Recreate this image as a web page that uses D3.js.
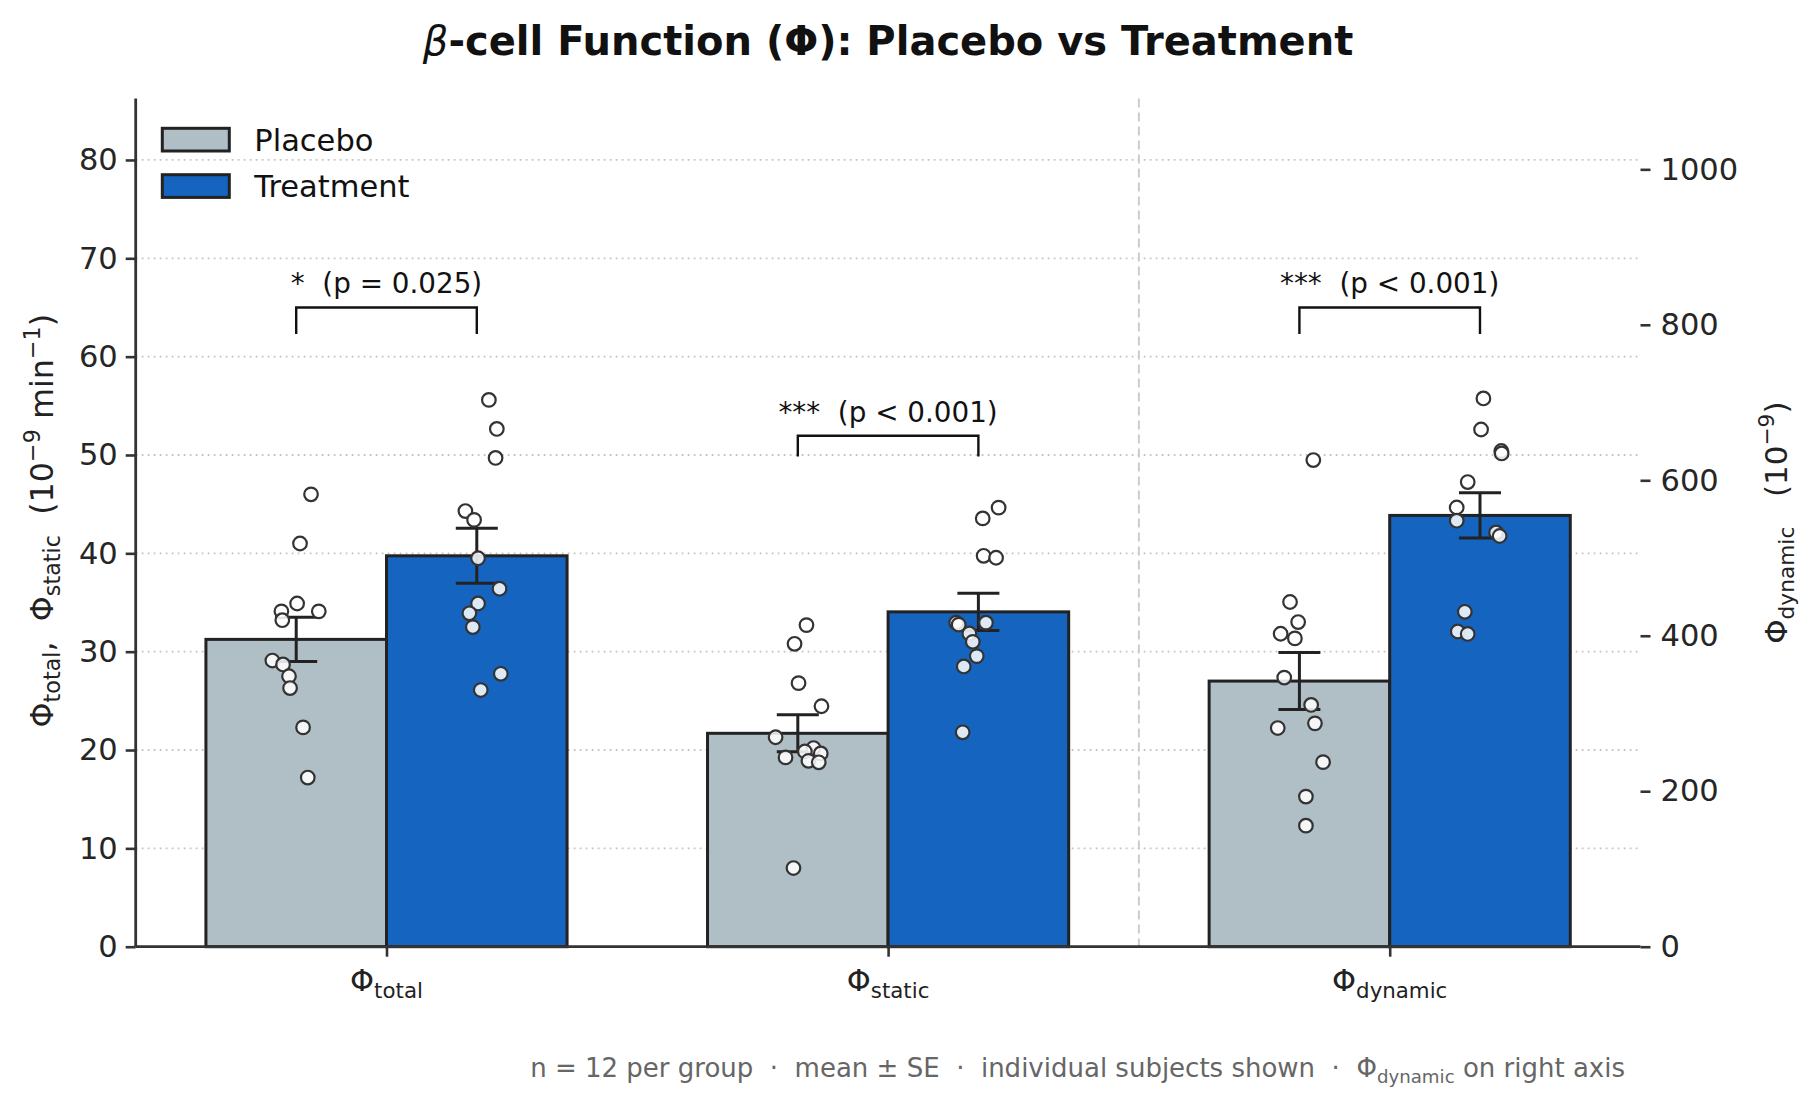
<!DOCTYPE html>
<html>
<head>
<meta charset="utf-8">
<script src="https://cdn.jsdelivr.net/npm/d3@7"></script>
<style>
  html, body { margin: 0; padding: 0; background: #fff; }
  svg text { font-family: "DejaVu Sans", sans-serif; white-space: pre; }
</style>
</head>
<body>
<svg id="chart" width="1819" height="1111"></svg>
<script>
// categories and groups
const categories = ["total", "static", "dynamic"];
const groups = ["Placebo", "Treatment"];
const axisFor = ["left", "left", "right"];   // dynamic is on the right axis

// bar means and SE
const placeboMean = [31.25, 21.7, 341.7];
const treatmentMean = [39.75, 34.05, 554.8];
const placeboSE = [2.25, 1.88, 36.7];
const treatmentSE = [2.8, 1.9, 29.2];

// individual subjects: value, jitter (fraction of bar width)
const placeboPts = [
  [[46.0, .082], [41.0, .021], [34.9, .005], [34.1, -.082], [34.1, .125], [33.2, -.077],
   [29.1, -.132], [28.7, -.073], [27.5, -.040], [26.3, -.034], [22.3, .038], [17.2, .064]],
  [[32.7, .048], [30.8, -.018], [26.8, .004], [24.45, .131], [21.3, -.123], [20.2, .087],
   [19.85, .039], [19.65, .127], [19.25, -.068], [18.9, .059], [18.75, .116], [8.0, -.024]],
  [[626, .077], [443.4, -.052], [417.6, -.007], [402.6, -.104], [396.6, -.025], [346.2, -.084],
   [311, .065], [287.3, .086], [281.3, -.120], [237.4, .131], [193.1, .036], [155.7, .036]]
];
const treatmentPts = [
  [[55.6, .067], [52.65, .111], [49.7, .104], [44.3, -.063], [43.4, -.015], [39.5, .007],
   [36.4, .126], [34.9, .007], [33.9, -.041], [32.5, -.022], [27.75, .133], [26.1, .022]],
  [[44.65, .112], [43.55, .024], [39.75, .029], [39.55, .098], [32.95, -.123], [32.75, -.109],
   [32.95, .042], [31.85, -.050], [31.0, -.031], [29.55, -.009], [28.5, -.081], [21.8, -.087]],
  [[705.3, .019], [665.3, .006], [637.7, .118], [634.5, .12], [597.7, -.068], [565, -.129],
   [548, -.129], [532.9, .089], [528.3, .109], [430.8, -.084], [405.5, -.123], [402.3, -.068]]
];

// significance brackets (left-axis units)
const sigLabels = ["*  (p = 0.025)", "***  (p < 0.001)", "***  (p < 0.001)"];
const bracketTop = [65.0, 51.95, 65.0];
const bracketLeg = [62.3, 49.85, 62.3];

// ticks
const leftTicks = [0, 10, 20, 30, 40, 50, 60, 70, 80];
const rightTicks = [0, 200, 400, 600, 800, 1000];
const leftMax = 86.24;
const rightMax = 1091;

const colors = { Placebo: "#b0bec5", Treatment: "#1565c0" };

// ---------- layout ----------
const W = 1819, H = 1111;
const margin = { top: 98.6, right: W - 1640.5, bottom: H - 946.7, left: 135.7 };
const barW = 0.36;

const svg = d3.select("#chart");

const x = d3.scaleLinear().domain([-0.5, 2.5]).range([margin.left, W - margin.right]);
const yL = d3.scaleLinear().domain([0, leftMax]).range([H - margin.bottom, margin.top]);
const yR = d3.scaleLinear().domain([0, rightMax]).range([H - margin.bottom, margin.top]);
const yFor = i => axisFor[i] === "left" ? yL : yR;

// text with sub/superscripts, parts = [[text, kind], ...]
function rich(sel, parts, fs) {
  let shift = 0;
  parts.forEach(([t, kind]) => {
    let target = 0;
    const ts = sel.append("tspan").text(t);
    if (kind === "sub") { ts.attr("font-size", fs * 0.7); target = fs * 0.22; }
    else if (kind === "sup") { ts.attr("font-size", fs * 0.7); target = -fs * 0.42; }
    else ts.attr("font-size", fs);
    if (kind === "it") ts.attr("font-style", "italic").attr("font-weight", "normal");
    if (target !== shift) ts.attr("dy", target - shift);
    shift = target;
  });
}

// gridlines
svg.append("g")
  .selectAll("line").data(leftTicks.filter(d => d > 0)).join("line")
  .attr("x1", margin.left).attr("x2", W - margin.right)
  .attr("y1", d => yL(d)).attr("y2", d => yL(d))
  .attr("stroke", "#c4c4c4").attr("stroke-width", 1.8)
  .attr("stroke-dasharray", "1.8,4.2");

// divider between left- and right-axis groups
svg.append("line")
  .attr("x1", x(1.5)).attr("x2", x(1.5))
  .attr("y1", margin.top).attr("y2", H - margin.bottom)
  .attr("stroke", "#cccccc").attr("stroke-width", 2)
  .attr("stroke-dasharray", "9,5");

// bars
const barData = [];
categories.forEach((c, i) => {
  barData.push({ i, g: "Placebo", off: -barW / 2, mean: placeboMean[i], se: placeboSE[i], pts: placeboPts[i] });
  barData.push({ i, g: "Treatment", off: barW / 2, mean: treatmentMean[i], se: treatmentSE[i], pts: treatmentPts[i] });
});

svg.append("g").selectAll("rect").data(barData).join("rect")
  .attr("x", d => x(d.i + d.off - barW / 2))
  .attr("width", d => x(barW) - x(0))
  .attr("y", d => yFor(d.i)(d.mean))
  .attr("height", d => yFor(d.i)(0) - yFor(d.i)(d.mean))
  .attr("fill", d => colors[d.g])
  .attr("stroke", "#222").attr("stroke-width", 3);

// error bars
const eb = svg.append("g").attr("stroke", "#222").attr("stroke-width", 3);
barData.forEach(d => {
  const y = yFor(d.i), cx = x(d.i + d.off), cap = 21;
  eb.append("line").attr("x1", cx).attr("x2", cx).attr("y1", y(d.mean - d.se)).attr("y2", y(d.mean + d.se));
  eb.append("line").attr("x1", cx - cap).attr("x2", cx + cap).attr("y1", y(d.mean + d.se)).attr("y2", y(d.mean + d.se));
  eb.append("line").attr("x1", cx - cap).attr("x2", cx + cap).attr("y1", y(d.mean - d.se)).attr("y2", y(d.mean - d.se));
});

// individual subjects
const pg = svg.append("g");
barData.forEach(d => {
  pg.selectAll(null).data(d.pts).join("circle")
    .attr("cx", p => x(d.i + d.off + p[1] * barW))
    .attr("cy", p => yFor(d.i)(p[0]))
    .attr("r", 6.8)
    .attr("fill", "rgba(255,255,255,0.86)")
    .attr("stroke", "#333").attr("stroke-width", 2.2);
});

// significance brackets
const sg = svg.append("g");
categories.forEach((c, i) => {
  const x1 = x(i - barW / 2), x2 = x(i + barW / 2);
  sg.append("path")
    .attr("d", `M${x1},${yL(bracketLeg[i])}V${yL(bracketTop[i])}H${x2}V${yL(bracketLeg[i])}`)
    .attr("fill", "none").attr("stroke", "#111").attr("stroke-width", 2.4);
  sg.append("text")
    .attr("x", x(i)).attr("y", yL(bracketTop[i]) - 14)
    .attr("text-anchor", "middle").attr("font-size", 27.8).attr("fill", "#111")
    .text(sigLabels[i]);
});

// left axis
const leftAxis = svg.append("g")
  .attr("transform", `translate(${margin.left},0)`)
  .call(d3.axisLeft(yL).tickValues(leftTicks).tickSize(10).tickPadding(8));
leftAxis.select(".domain").attr("d", `M0,${margin.top}V${H - margin.bottom}`);

// right axis (no spine)
const rightAxis = svg.append("g")
  .attr("transform", `translate(${W - margin.right},0)`)
  .call(d3.axisRight(yR).tickValues(rightTicks).tickSize(10).tickPadding(10).tickFormat(d3.format("d")));
rightAxis.select(".domain").remove();

// bottom axis
const bottomAxis = svg.append("g")
  .attr("transform", `translate(0,${H - margin.bottom})`)
  .call(d3.axisBottom(x).tickValues([0, 1, 2]).tickSize(10).tickFormat(""));
bottomAxis.select(".domain").attr("d", `M${margin.left},0H${W - margin.right}`);

[leftAxis, rightAxis, bottomAxis].forEach(a => {
  a.selectAll(".domain").attr("stroke", "#333").attr("stroke-width", 2.8);
  a.selectAll(".tick line").attr("stroke", "#333").attr("stroke-width", 2.6);
  a.selectAll(".tick text").attr("font-size", 30.5).attr("fill", "#262626")
    .attr("font-family", "DejaVu Sans");
});

// category labels
categories.forEach((c, i) => {
  const t = svg.append("text")
    .attr("x", x(i)).attr("y", 991)
    .attr("text-anchor", "middle").attr("fill", "#222");
  rich(t, [["Φ"], [c, "sub"]], 30.5);
});

// axis titles
const yl = svg.append("text")
  .attr("transform", `translate(53,${(margin.top + H - margin.bottom) / 2 - 2}) rotate(-90)`)
  .attr("text-anchor", "middle").attr("fill", "#222");
rich(yl, [["Φ"], ["total", "sub"], [",  Φ"], ["static", "sub"], ["  (10"], ["−9", "sup"], [" min"], ["−1", "sup"], [")"]], 31.8);

const yr = svg.append("text")
  .attr("transform", `translate(1787,${(margin.top + H - margin.bottom) / 2}) rotate(-90)`)
  .attr("text-anchor", "middle").attr("fill", "#222");
rich(yr, [["Φ"], ["dynamic", "sub"], ["   (10"], ["−9", "sup"], [")"]], 31);

// title
const title = svg.append("text")
  .attr("x", (margin.left + W - margin.right) / 2).attr("y", 55)
  .attr("text-anchor", "middle").attr("font-weight", "bold").attr("fill", "#111");
rich(title, [["β", "it"], ["-cell Function (Φ): Placebo vs Treatment"]], 40);

// legend
const lg = svg.append("g");
groups.forEach((g, k) => {
  lg.append("rect")
    .attr("x", 162.3).attr("y", 128.3 + k * 46.4)
    .attr("width", 67).attr("height", 22.7)
    .attr("fill", colors[g]).attr("stroke", "#222").attr("stroke-width", 3);
  lg.append("text")
    .attr("x", 254.3).attr("y", 150.8 + k * 46.4)
    .attr("font-size", 30.5).attr("fill", "#111")
    .text(g);
});

// footnote
const fn = svg.append("text")
  .attr("x", 1625).attr("y", 1077)
  .attr("text-anchor", "end").attr("fill", "#666");
rich(fn, [["n = 12 per group  ·  mean ± SE  ·  individual subjects shown  ·  Φ"], ["dynamic", "sub"], [" on right axis"]], 26);
</script>
</body>
</html>
